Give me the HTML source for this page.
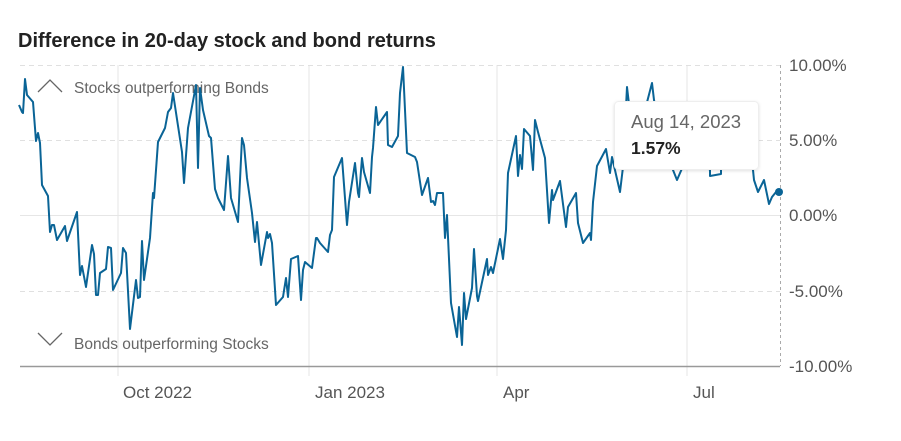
<!DOCTYPE html>
<html><head><style>
body{margin:0;background:#fff;width:901px;height:436px;overflow:hidden;font-family:"Liberation Sans",sans-serif}
</style></head><body>
<svg width="901" height="436" xmlns="http://www.w3.org/2000/svg" style="font-family:'Liberation Sans',sans-serif">
<defs><filter id="sh" x="-10%" y="-10%" width="120%" height="130%"><feDropShadow dx="0" dy="1" stdDeviation="1.5" flood-color="#000" flood-opacity="0.12"/></filter></defs>
<text x="18" y="47" font-size="20" font-weight="bold" fill="#222">Difference in 20-day stock and bond returns</text>
<g stroke="#e6e6e6" stroke-width="1">
<line x1="118" y1="65" x2="118" y2="376"/><line x1="309" y1="65" x2="309" y2="376"/>
<line x1="497" y1="65" x2="497" y2="376"/><line x1="687" y1="65" x2="687" y2="376"/>
<line x1="20" y1="215.5" x2="780" y2="215.5"/>
</g>
<g stroke="#e0e0e0" stroke-dasharray="5,4">
<line x1="20" y1="65.5" x2="780" y2="65.5"/><line x1="20" y1="140.5" x2="780" y2="140.5"/><line x1="20" y1="291.5" x2="780" y2="291.5"/>
</g>
<line x1="780.5" y1="65" x2="780.5" y2="366" stroke="#aaa" stroke-dasharray="3,3"/>
<line x1="20" y1="366.5" x2="780" y2="366.5" stroke="#999" stroke-width="1.5"/>
<g font-size="17" fill="#555">
<text x="789" y="71">10.00%</text><text x="789" y="146">5.00%</text><text x="789" y="221">0.00%</text>
<text x="789" y="297">-5.00%</text><text x="789" y="372">-10.00%</text>
<text x="123" y="398">Oct 2022</text><text x="315" y="398">Jan 2023</text><text x="503" y="398">Apr</text><text x="693" y="398">Jul</text>
</g>
<polyline fill="none" stroke="#666" stroke-width="1.3" points="38,92 50,80 62,92"/>
<polyline fill="none" stroke="#666" stroke-width="1.3" points="38,333 50,345 62,333"/>
<text x="74" y="93" font-size="15.5" fill="#666">Stocks outperforming Bonds</text>
<text x="74" y="349" font-size="15.5" fill="#666">Bonds outperforming Stocks</text>
<polyline fill="none" stroke="#0a6496" stroke-width="2" stroke-linejoin="round" points="19,105 22,112 23,113 25,79 27,95 33,102 36,141 38,133 40,143 42,185 48,196 50,232 52,225 54,225 57,240 65,226 67,241 77,212 80,275 82,266 86,287 92,245 94,254 96,295 98,295 100,273 106,269 108,247 111,248 113,290 121,273 123,248 126,253 130,329 136,280 138,298 140,297 142,241 144,280 150,238 153,193 154,198 158,142 165,128 168,112 171,108 173,93 182,152 184,183 188,128 196,85 198,168 200,88 203,110 209,136 211,138 215,189 218,198 224,210 228,156 231,198 238,222 242,138 244,145 247,178 252,213 255,242 257,222 261,265 267,232 268,238 270,234 272,243 276,305 283,297 286,278 288,297 291,259 298,256 301,300 303,270 305,262 312,268 316,238 317,238 320,243 328,252 330,235 332,230 334,177 342,158 347,225 349,202 355,163 358,193 359,197 362,158 364,172 370,193 372,157 373,148 376,107 378,125 387,112 388,145 392,147 398,136 400,93 403,67 407,153 415,157 417,162 422,195 428,178 431,202 433,201 435,205 437,193 443,193 445,238 447,215 451,303 457,337 459,307 462,345 464,293 466,319 472,288 474,249 477,296 478,301 487,259 488,275 491,267 493,273 500,239 503,259 506,230 508,173 516,136 518,176 520,155 522,169 524,129 530,136 533,170 535,120 538,132 545,158 549,223 552,190 553,200 560,181 566,227 568,207 576,193 578,223 583,243 590,233 591,240 593,202 597,166 606,149 610,173 612,157 620,192 623,167 627,87 632,130 645,110 652,83 654,100 662,140 673,170 677,180 690,150 710,170 710,176 721,174 721,170 740,140 753,170 754,180 758,192 764,180 769,204 772,197 776,192 780,193"/>
<circle cx="779" cy="192" r="4" fill="#0a6496"/>
<rect x="614.5" y="101.5" width="144" height="68" rx="4" fill="#fff" stroke="#eee" filter="url(#sh)"/>
<text x="631" y="128" font-size="18.5" fill="#666">Aug 14, 2023</text>
<text x="631" y="154" font-size="17.5" font-weight="bold" fill="#222">1.57%</text>
</svg>
</body></html>
